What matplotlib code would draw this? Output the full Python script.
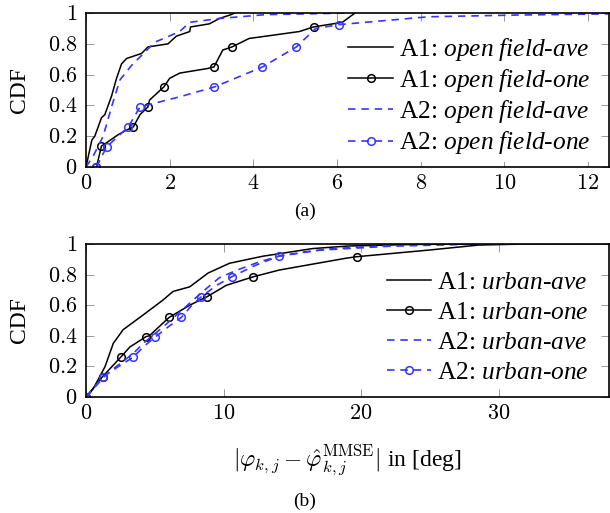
import matplotlib
matplotlib.use("Agg")
import matplotlib.pyplot as plt

plt.rcParams['font.family'] = ['Liberation Serif', 'DejaVu Serif']
plt.rcParams['mathtext.fontset'] = 'custom'
plt.rcParams['mathtext.rm'] = 'Liberation Serif'
plt.rcParams['mathtext.it'] = 'Liberation Serif:italic'

BLUE = '#3535ff'

# (a) open field
a1_open_ave_x = [0.0, 0.14, 0.21, 0.37, 0.45, 0.61, 0.73, 0.85, 0.97, 1.33, 1.48, 1.96, 2.16, 2.48, 2.5, 2.95, 3.19, 3.47, 3.55]
a1_open_ave_y = [0, 0.175, 0.2, 0.32, 0.34, 0.46, 0.576, 0.67, 0.705, 0.738, 0.78, 0.80, 0.85, 0.88, 0.91, 0.93, 0.965, 0.99, 1.0]

a1_open_one_x = [0.25, 0.37, 0.45, 0.77, 0.97, 1.13, 1.29, 1.48, 1.52, 1.86, 2.0, 2.24, 2.91, 3.06, 3.27, 3.49, 3.9, 5.1, 5.44, 6.13, 6.43]
a1_open_one_y = [0, 0.136, 0.15, 0.21, 0.24, 0.26, 0.34, 0.39, 0.435, 0.52, 0.576, 0.61, 0.64, 0.65, 0.76, 0.78, 0.835, 0.88, 0.91, 0.94, 1.0]
a1_open_one_marks = [0, 1, 5, 7, 9, 13, 15, 18]

a2_open_ave_x = [0, 0.17, 0.41, 0.61, 0.81, 1.09, 1.64, 2.24, 2.48, 3.19, 4.3, 6.2]
a2_open_ave_y = [0, 0.07, 0.2, 0.39, 0.565, 0.66, 0.81, 0.88, 0.94, 0.965, 0.99, 1.0]

a2_open_one_x = [0.25, 0.49, 1.01, 1.29, 2.24, 3.07, 4.22, 5.03, 5.49, 6.05, 8.19, 10.25, 12.5]
a2_open_one_y = [0, 0.13, 0.26, 0.39, 0.456, 0.52, 0.65, 0.78, 0.9, 0.925, 0.976, 0.987, 0.995]
a2_open_one_marks = [0, 1, 2, 3, 5, 6, 7, 9]

# (b) urban
a1_urban_ave_x = [0.05, 0.53, 1.38, 1.98, 2.7, 4.15, 5.6, 6.33, 7.54, 8.87, 10.43, 12.85, 16.47, 19.1, 24, 30]
a1_urban_ave_y = [0, 0.055, 0.198, 0.35, 0.44, 0.536, 0.634, 0.69, 0.72, 0.81, 0.874, 0.92, 0.97, 0.987, 0.997, 1.0]

a1_urban_one_x = [0, 1.2, 2.54, 3.19, 4.35, 4.6, 6.04, 7.54, 8.79, 10.2, 12.17, 14.06, 18.9, 19.7, 24.9, 28.55, 32, 38]
a1_urban_one_y = [0, 0.133, 0.262, 0.327, 0.394, 0.4, 0.52, 0.60, 0.655, 0.73, 0.786, 0.83, 0.907, 0.917, 0.96, 0.993, 1.0, 1.0]
a1_urban_one_marks = [0, 1, 2, 4, 6, 8, 10, 13]

a2_urban_ave_x = [0, 0.8, 1.5, 2.5, 3.5, 4.15, 5.5, 6.5, 7.5, 8.5, 9.7, 11, 12.5, 14, 16, 18, 21, 25]
a2_urban_ave_y = [0, 0.08, 0.15, 0.22, 0.29, 0.35, 0.45, 0.53, 0.61, 0.69, 0.78, 0.83, 0.88, 0.92, 0.95, 0.97, 0.985, 1.0]

a2_urban_one_x = [0, 1.2, 2.2, 3.43, 4.2, 5.0, 6.0, 6.93, 7.6, 8.38, 9.5, 10.6, 12.3, 14.0, 17, 22, 28, 38]
a2_urban_one_y = [0, 0.13, 0.19, 0.26, 0.33, 0.39, 0.46, 0.52, 0.59, 0.655, 0.73, 0.786, 0.86, 0.92, 0.96, 0.985, 0.998, 1.0]
a2_urban_one_marks = [0, 1, 3, 5, 7, 9, 11, 13]

yticks = [0, 0.2, 0.4, 0.6, 0.8, 1]
ytick_labels = ['0', '0.2', '0.4', '0.6', '0.8', '1']
xticks_a = [0, 2, 4, 6, 8, 10, 12]
xticks_b = [0, 10, 20, 30]


def draw_panel(ax, series, xlim, xticks, legend_anchor, spacing):
    (ax_x, ax_y), (one_x, one_y, one_m), (bx, by), (b1x, b1y, b1m), names = series
    ax.plot(ax_x, ax_y, color='black', lw=1.1, label=names[0])
    ax.plot(one_x, one_y, color='black', lw=1.1, marker='o', ms=5.5, mfc='none', mew=1.1,
            markevery=one_m, label=names[1])
    ax.plot(bx, by, color=BLUE, lw=1.2, dashes=(4.5, 3.5), label=names[2])
    ax.plot(b1x, b1y, color=BLUE, lw=1.2, dashes=(4.5, 3.5), marker='o', ms=5.5, mfc='none', mew=1.1,
            markevery=b1m, label=names[3])
    ax.set_xlim(*xlim)
    ax.set_ylim(0, 1)
    ax.set_xticks(xticks)
    ax.set_xticklabels(['$%g$' % t for t in xticks], math_fontfamily='cm')
    ax.set_yticks(yticks)
    ax.set_yticklabels(['$%s$' % t for t in ytick_labels], math_fontfamily='cm')
    ax.tick_params(direction='in', top=True, right=True, labelsize=16, length=5.5,
                   width=0.6, color='#888888', pad=6)
    for s in ax.spines.values():
        s.set_linewidth(1.2)
    ax.set_ylabel('CDF', fontsize=17, labelpad=13)
    leg = ax.legend(loc='upper left', bbox_to_anchor=legend_anchor, fontsize=18.3, frameon=True,
                    edgecolor='none', facecolor='white', framealpha=1, fancybox=False,
                    handlelength=1.75, handletextpad=0.25, labelspacing=spacing, borderpad=0.2)
    return leg


fig = plt.figure(figsize=(6.1, 5.13), dpi=100)
ax1 = fig.add_axes([0.141, 0.6745, 0.857, 0.3])
ax2 = fig.add_axes([0.141, 0.2261, 0.857, 0.2983])

draw_panel(ax1,
           ((a1_open_ave_x, a1_open_ave_y),
            (a1_open_one_x, a1_open_one_y, a1_open_one_marks),
            (a2_open_ave_x, a2_open_ave_y),
            (a2_open_one_x, a2_open_one_y, a2_open_one_marks),
            [r'A1: $\mathit{open\ field}$-$\mathit{ave}$', r'A1: $\mathit{open\ field}$-$\mathit{one}$',
             r'A2: $\mathit{open\ field}$-$\mathit{ave}$', r'A2: $\mathit{open\ field}$-$\mathit{one}$']),
           (0, 12.5), xticks_a, (0.468, 0.965), 0.16)

draw_panel(ax2,
           ((a1_urban_ave_x, a1_urban_ave_y),
            (a1_urban_one_x, a1_urban_one_y, a1_urban_one_marks),
            (a2_urban_ave_x, a2_urban_ave_y),
            (a2_urban_one_x, a2_urban_one_y, a2_urban_one_marks),
            [r'A1: $\mathit{urban}$-$\mathit{ave}$', r'A1: $\mathit{urban}$-$\mathit{one}$',
             r'A2: $\mathit{urban}$-$\mathit{ave}$', r'A2: $\mathit{urban}$-$\mathit{one}$']),
           (0, 38), xticks_b, (0.541, 0.94), 0.29)

ax2.set_xlabel(r'$|\varphi_{k,j}-\hat{\varphi}_{k,j}^{\mathrm{MMSE}}|$ in [deg]', fontsize=17,
               math_fontfamily='cm', labelpad=13)

fig.text(0.5, 1 - 211 / 513, '(a)', ha='center', va='center', fontsize=14)
fig.text(0.5, 1 - 501 / 513, '(b)', ha='center', va='center', fontsize=14)

fig.savefig('out.png', dpi=100)
